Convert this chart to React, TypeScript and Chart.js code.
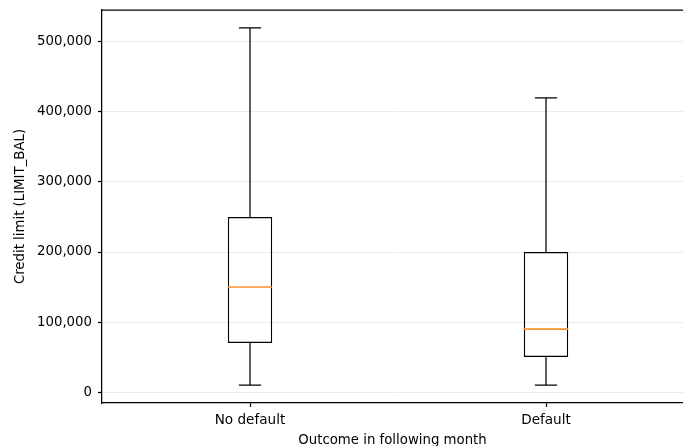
import React, { useEffect, useRef } from 'react';
import { Chart, registerables } from 'chart.js';

Chart.register(...registerables);

const CATEGORIES = ['No default', 'Default'];
const POSITIONS = [1, 2];
const WHISKER_LOW = [10000, 10000];
const Q1 = [70000, 50000];
const MEDIAN = [150000, 90000];
const Q3 = [250000, 200000];
const WHISKER_HIGH = [520000, 420000];
const Y_TICKS = [0, 100000, 200000, 300000, 400000, 500000];
const X_TITLE = 'Outcome in following month';
const Y_TITLE = 'Credit limit (LIMIT_BAL)';

const FONT = 'DejaVu Sans';
const LW = 1.25;

const boxPlugin = {
  id: 'boxExtras',
  afterDatasetsDraw(chart: any) {
    const { ctx, chartArea, scales } = chart;
    const xs = scales.x;
    const ys = scales.y;
    const meta = chart.getDatasetMeta(0);
    ctx.save();
    ctx.strokeStyle = '#000';
    ctx.lineWidth = LW;
    ctx.beginPath();
    ctx.moveTo(chartArea.left, chartArea.top);
    ctx.lineTo(chartArea.right, chartArea.top);
    ctx.stroke();
    POSITIONS.forEach((p, i) => {
      const x = xs.getPixelForValue(p);
      const half = meta.data[i].width / 2;
      const cap = half / 2;
      const yLo = ys.getPixelForValue(WHISKER_LOW[i]);
      const yQ1 = ys.getPixelForValue(Q1[i]);
      const yQ3 = ys.getPixelForValue(Q3[i]);
      const yHi = ys.getPixelForValue(WHISKER_HIGH[i]);
      const yMed = ys.getPixelForValue(MEDIAN[i]);
      ctx.strokeStyle = '#000';
      ctx.lineWidth = LW;
      ctx.beginPath();
      ctx.moveTo(x, yQ3);
      ctx.lineTo(x, yHi);
      ctx.moveTo(x - cap, yHi);
      ctx.lineTo(x + cap, yHi);
      ctx.moveTo(x, yQ1);
      ctx.lineTo(x, yLo);
      ctx.moveTo(x - cap, yLo);
      ctx.lineTo(x + cap, yLo);
      ctx.stroke();
      ctx.strokeStyle = '#ff8f2e';
      ctx.lineWidth = 1.6;
      ctx.beginPath();
      ctx.moveTo(x - half, yMed);
      ctx.lineTo(x + half, yMed);
      ctx.stroke();
    });
    ctx.restore();
  },
};

export default function App() {
  const ref = useRef<HTMLCanvasElement>(null);
  useEffect(() => {
    if (!ref.current) return;
    const chart = new Chart(ref.current, {
      type: 'bar',
      data: {
        datasets: [
          {
            data: POSITIONS.map((p, i) => ({ x: p, y: [Q1[i], Q3[i]] })) as any,
            backgroundColor: 'rgba(0,0,0,0)',
            borderColor: '#000',
            borderWidth: LW,
            borderSkipped: false,
            categoryPercentage: 1,
            barPercentage: 0.15,
          },
        ],
      },
      options: {
        responsive: false,
        animation: false,
        layout: { padding: { top: 10, left: 0, right: 0, bottom: 0 } },
        plugins: { legend: { display: false }, tooltip: { enabled: false } },
        scales: {
          x: {
            type: 'linear',
            min: 0.5,
            max: 2.4628,
            offset: false,
            afterBuildTicks: (s: any) => {
              s.ticks = POSITIONS.map((v) => ({ value: v }));
            },
            afterFit: (s: any) => {
              s.height = 43;
              s.paddingLeft = 0;
              s.paddingRight = 0;
            },
            grid: {
              offset: false,
              drawOnChartArea: false,
              drawTicks: true,
              tickLength: 4,
              tickColor: '#000',
              tickWidth: LW,
            },
            border: { color: '#000', width: LW },
            ticks: {
              color: '#000',
              padding: 5,
              autoSkip: false,
              maxRotation: 0,
              font: { family: FONT, size: 13.6 },
              callback: (v: any) => {
                const idx = POSITIONS.indexOf(Number(v));
                return idx >= 0 ? CATEGORIES[idx] : '';
              },
            },
            title: {
              display: true,
              text: X_TITLE,
              color: '#000',
              font: { family: FONT, size: 13.3 },
              padding: { top: 0, bottom: -3 },
            },
          },
          y: {
            type: 'linear',
            min: -15500,
            max: 545500,
            afterBuildTicks: (s: any) => {
              s.ticks = Y_TICKS.map((v) => ({ value: v }));
            },
            afterFit: (s: any) => {
              s.width = 102;
              s.paddingTop = 0;
              s.paddingBottom = 0;
            },
            grid: {
              color: '#ebebeb',
              lineWidth: 1,
              drawTicks: true,
              tickLength: 4,
              tickColor: '#000',
              tickWidth: LW,
            },
            border: { color: '#000', width: LW },
            ticks: {
              color: '#000',
              padding: 6,
              font: { family: FONT, size: 13.3 },
              callback: (v: any) => Number(v).toLocaleString('en-US'),
            },
            title: {
              display: true,
              text: Y_TITLE,
              color: '#000',
              font: { family: FONT, size: 13.3 },
              padding: { top: 13, bottom: 0 },
            },
          },
        },
      },
      plugins: [boxPlugin],
    });
    return () => chart.destroy();
  }, []);
  return (
    <div style={{ position: 'fixed', left: 0, top: 0, width: 683, height: 446, background: '#fff' }}>
      <canvas ref={ref} width={683} height={446} style={{ display: 'block' }} />
    </div>
  );
}
